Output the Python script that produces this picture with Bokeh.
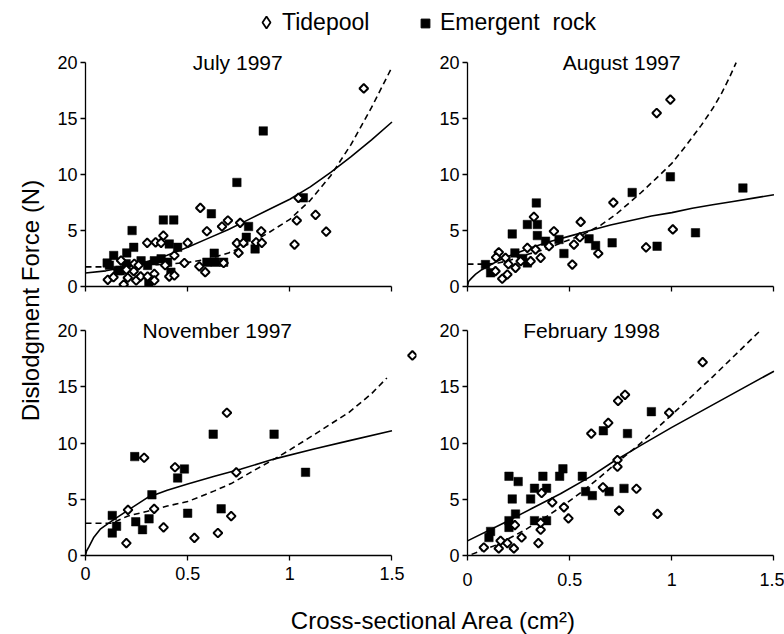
import numpy as np
from bokeh.plotting import figure
from bokeh.models import FixedTicker, Label, Legend, LegendItem, Range1d
from bokeh.layouts import column, row
from bokeh.embed import file_html
from bokeh.resources import INLINE

FONT = "Liberation Sans"

X_TICKS = [0, 0.5, 1, 1.5]
X_TICK_LABELS = ["0", "0.5", "1", "1.5"]
Y_TICKS = [0, 5, 10, 15, 20]
Y_TICK_LABELS = ["0", "5", "10", "15", "20"]

TITLES = ["July 1997", "August 1997", "November 1997", "February 1998"]
SERIES = ["Tidepool", "Emergent  rock"]

# ---------------- July 1997 ----------------
JUL_TIDE_X = [0.109, 0.137, 0.174, 0.187, 0.207, 0.236, 0.239, 0.248, 0.27, 0.304, 0.337, 0.337,
              0.302, 0.343, 0.37, 0.381, 0.41, 0.435, 0.435, 0.484, 0.5, 0.557, 0.562, 0.586,
              0.594, 0.668, 0.676, 0.697, 0.757, 0.749, 0.741, 0.773, 0.835, 0.86, 0.863,
              1.023, 1.034, 1.042, 1.126, 1.178, 1.362, 0.2, 0.26, 0.39]
JUL_TIDE_Y = [0.6, 0.83, 2.32, 0.18, 0.78, 1.37, 2.03, 0.54, 0.9, 0.89, 1.13, 0.54,
              3.9, 3.95, 3.9, 4.55, 0.89, 0.98, 2.77, 2.1, 3.9, 1.8, 7.02, 1.28,
              4.94, 5.36, 2.1, 5.9, 5.69, 3.0, 3.87, 3.9, 3.95, 4.94, 3.9,
              3.75, 5.9, 7.92, 6.4, 4.9, 17.7, 1.5, 1.9, 1.9]
JUL_ROCK_X = [0.106, 0.117, 0.138, 0.158, 0.171, 0.199, 0.202, 0.228, 0.236, 0.272, 0.31,
              0.304, 0.337, 0.37, 0.381, 0.402, 0.41, 0.418, 0.432, 0.451, 0.594, 0.616,
              0.63, 0.635, 0.676, 0.741, 0.787, 0.798, 0.83, 0.87, 1.066]
JUL_ROCK_Y = [2.1, 1.9, 2.77, 1.43, 1.4, 2.03, 3.0, 5.0, 3.5, 2.3, 0.3,
              1.88, 2.3, 2.47, 5.95, 2.17, 3.8, 1.28, 5.95, 3.5, 2.17, 6.5,
              2.98, 2.17, 2.17, 9.3, 4.4, 5.36, 3.36, 13.9, 7.92]
JUL_FIT_ROCK_X = [0, 0.1, 0.2, 0.3, 0.4, 0.5, 0.6, 0.7, 0.8, 0.9, 1.0, 1.1, 1.2, 1.3, 1.4, 1.5]
JUL_FIT_ROCK_Y = [1.2, 1.4, 1.75, 2.2, 2.8, 3.5, 4.3, 5.1, 6.0, 6.9, 7.8, 8.9, 10.2, 11.6, 13.1, 14.7]
JUL_FIT_TIDE_X = [0, 0.1, 0.2, 0.3, 0.4, 0.5, 0.6, 0.7, 0.8, 0.9, 1.0, 1.1, 1.2, 1.3, 1.4, 1.5]
JUL_FIT_TIDE_Y = [1.75, 1.75, 1.8, 1.9, 2.0, 2.15, 2.45, 3.0, 3.8, 4.85, 6.0, 7.7, 9.9, 12.7, 16.0, 19.6]

# ---------------- August 1997 ----------------
AUG_TIDE_X = [0.137, 0.153, 0.17, 0.186, 0.195, 0.235, 0.26, 0.293, 0.309, 0.325, 0.333, 0.358,
              0.399, 0.423, 0.513, 0.521, 0.554, 0.55, 0.64, 0.714, 0.874, 0.926, 0.993, 1.005,
              0.14, 0.2]
AUG_TIDE_Y = [1.37, 3.06, 0.69, 2.56, 1.07, 1.67, 2.26, 3.45, 2.26, 6.22, 3.3, 2.56,
              3.6, 4.94, 1.96, 3.75, 5.77, 4.4, 2.95, 7.5, 3.5, 15.5, 16.7, 5.1,
              2.6, 2.0]
AUG_ROCK_X = [0.088, 0.113, 0.219, 0.232, 0.293, 0.293, 0.337, 0.342, 0.342, 0.382, 0.448,
              0.472, 0.595, 0.627, 0.708, 0.806, 0.928, 0.993, 1.116, 1.348, 0.27]
AUG_ROCK_Y = [1.96, 1.22, 4.7, 3.0, 2.11, 5.54, 7.47, 5.54, 4.55, 4.05, 4.2,
              2.95, 4.26, 3.66, 3.9, 8.4, 3.6, 9.8, 4.8, 8.8, 2.5]
AUG_FIT_ROCK_X = [0, 0.005, 0.02, 0.04, 0.07, 0.1, 0.15, 0.2, 0.3, 0.4, 0.5, 0.6, 0.7, 0.8,
                  0.9, 1.0, 1.1, 1.2, 1.3, 1.4, 1.5]
AUG_FIT_ROCK_Y = [0, 0.45, 0.75, 1.1, 1.5, 1.8, 2.3, 2.7, 3.4, 4.0, 4.5, 5.0, 5.5, 5.9,
                  6.3, 6.6, 7.0, 7.3, 7.6, 7.9, 8.2]
AUG_FIT_TIDE_X = [0, 0.1, 0.15, 0.2, 0.25, 0.3, 0.376, 0.458, 0.56, 0.654, 0.73, 0.8, 0.85,
                  0.92, 1.0, 1.07, 1.144, 1.2, 1.242, 1.28, 1.315]
AUG_FIT_TIDE_Y = [2.0, 2.0, 2.1, 2.3, 2.6, 2.9, 3.3, 3.9, 4.6, 5.5, 6.5, 7.6, 8.4,
                  9.6, 11.0, 12.6, 14.4, 15.9, 17.2, 18.6, 20.0]

# ---------------- November 1997 ----------------
NOV_TIDE_X = [0.2, 0.208, 0.287, 0.336, 0.382, 0.438, 0.533, 0.648, 0.692, 0.713, 0.738, 1.6]
NOV_TIDE_Y = [1.1, 4.06, 8.7, 4.15, 2.5, 7.85, 1.57, 2.0, 12.7, 3.5, 7.4, 17.8]
NOV_ROCK_X = [0.131, 0.152, 0.131, 0.241, 0.246, 0.279, 0.311, 0.325, 0.451, 0.484, 0.5,
              0.625, 0.664, 0.923, 1.077]
NOV_ROCK_Y = [3.56, 2.6, 2.0, 8.8, 3.0, 2.3, 3.26, 5.4, 6.9, 7.7, 3.76,
              10.8, 4.15, 10.8, 7.4]
NOV_FIT_ROCK_X = [0, 0.005, 0.016, 0.041, 0.074, 0.131, 0.205, 0.303, 0.4, 0.5, 0.631, 0.762,
                  0.926, 1.123, 1.287, 1.5]
NOV_FIT_ROCK_Y = [0, 0.4, 0.74, 1.63, 2.37, 3.1, 4.0, 5.15, 5.8, 6.37, 7.05, 7.7,
                  8.6, 9.5, 10.2, 11.1]
NOV_FIT_TIDE_X = [0, 0.13, 0.205, 0.303, 0.4, 0.5, 0.631, 0.713, 0.828, 0.926, 1.0, 1.123,
                  1.2, 1.287, 1.4, 1.475]
NOV_FIT_TIDE_Y = [2.87, 2.87, 3.5, 3.94, 4.4, 4.8, 5.75, 6.4, 7.6, 8.6, 9.4, 10.8,
                  11.7, 12.7, 14.4, 15.8]

# ---------------- February 1998 ----------------
FEB_TIDE_X = [0.08, 0.153, 0.162, 0.195, 0.227, 0.232, 0.265, 0.347, 0.358, 0.358, 0.363,
              0.415, 0.472, 0.494, 0.606, 0.663, 0.689, 0.734, 0.734, 0.737, 0.742, 0.771,
              0.827, 0.93, 0.987, 1.151]
FEB_TIDE_Y = [0.71, 0.63, 1.31, 1.1, 0.63, 2.7, 1.6, 1.1, 2.29, 2.9, 5.56,
              4.73, 4.29, 3.3, 10.85, 6.07, 11.8, 8.5, 7.9, 13.76, 4.0, 14.3,
              5.94, 3.7, 12.7, 17.2]
FEB_ROCK_X = [0.105, 0.113, 0.203, 0.203, 0.203, 0.219, 0.235, 0.248, 0.309, 0.328, 0.328,
              0.369, 0.387, 0.387, 0.451, 0.467, 0.562, 0.578, 0.611, 0.665, 0.693, 0.766,
              0.783, 0.9]
FEB_ROCK_Y = [1.6, 2.14, 2.5, 3.1, 7.05, 5.03, 3.69, 6.58, 5.03, 5.98, 3.1,
              7.05, 5.98, 3.1, 7.05, 7.71, 7.05, 5.69, 5.33, 11.1, 5.69, 5.97,
              10.85, 12.8]
FEB_FIT_ROCK_X = [0, 0.2, 0.317, 0.455, 0.6, 0.709, 0.848, 1.0, 1.1, 1.3, 1.5]
FEB_FIT_ROCK_Y = [1.3, 3.1, 4.2, 5.5, 7.0, 8.3, 9.8, 11.4, 12.4, 14.4, 16.4]
FEB_FIT_TIDE_X = [0.02, 0.15, 0.284, 0.39, 0.48, 0.562, 0.644, 0.734, 0.848, 1.028, 1.2, 1.438]
FEB_FIT_TIDE_Y = [0.1, 1.0, 2.3, 3.5, 4.6, 5.7, 6.9, 8.3, 10.0, 13.0, 15.9, 20.1]


def style_axes(p, show_x_labels, x_standoff):
    for ax in (p.xaxis[0], p.yaxis[0]):
        ax.axis_line_color = "black"
        ax.axis_line_width = 1.3
        ax.major_tick_line_color = "black"
        ax.major_tick_line_width = 1.3
        ax.major_tick_out = 5
        ax.major_tick_in = 0
        ax.minor_tick_line_color = None
        ax.major_label_text_font = FONT
        ax.major_label_text_font_size = "18px"
        ax.major_label_text_color = "black"
    p.xaxis.ticker = FixedTicker(ticks=X_TICKS)
    p.xaxis.bounds = (0, 1.5)
    p.xaxis.major_label_overrides = dict(zip(X_TICKS, X_TICK_LABELS))
    p.xaxis.major_label_standoff = x_standoff
    if not show_x_labels:
        # the upper panels show ticks without numbers
        p.xaxis.major_label_text_color = None
        p.xaxis.major_label_text_font_size = "10px"
        p.xaxis.major_label_standoff = 0
    p.yaxis.ticker = FixedTicker(ticks=Y_TICKS)
    p.yaxis.bounds = (0, 20)
    p.yaxis.major_label_overrides = dict(zip(Y_TICKS, Y_TICK_LABELS))
    p.yaxis.major_label_standoff = 3


def panel(title, title_x, tx, ty, rx, ry, fsx, fsy, fdx, fdy,
          width, height, x_end, b_top, b_bottom, b_right, show_x_labels, x_standoff):
    p = figure(width=width, height=height,
               x_range=Range1d(0, x_end), y_range=Range1d(0, 21),
               output_backend="svg", toolbar_location=None,
               min_border_left=40, min_border_right=b_right,
               min_border_top=b_top, min_border_bottom=b_bottom)
    p.grid.visible = False
    p.outline_line_color = None
    p.background_fill_color = "white"
    p.line(fsx, fsy, line_color="black", line_width=1.6)
    p.line(fdx, fdy, line_color="black", line_width=1.6, line_dash="6 4")
    p.scatter(rx, ry, marker="square", size=8.5, fill_color="black", line_color="black",
              line_width=0.5)
    p.scatter(tx, ty, marker="square", angle=np.pi / 4, size=6.2, fill_color="white",
              line_color="black", line_width=2)
    style_axes(p, show_x_labels, x_standoff)
    p.add_layout(Label(x=title_x, y=20, text=title, text_align="center",
                       text_baseline="middle", text_font=FONT, text_font_size="21px",
                       text_color="black"))
    return p


LEFT_W, RIGHT_W = 382, 357
TOP_H, BOT_H = 269, 288
LEG_H, XL_H, YL_W = 40, 37, 45

p_jul = panel(TITLES[0], 0.745, JUL_TIDE_X, JUL_TIDE_Y, JUL_ROCK_X, JUL_ROCK_Y,
              JUL_FIT_ROCK_X, JUL_FIT_ROCK_Y, JUL_FIT_TIDE_X, JUL_FIT_TIDE_Y,
              LEFT_W, TOP_H, 1.62, 11, 23, 11, False, 6)
p_aug = panel(TITLES[1], 0.755, AUG_TIDE_X, AUG_TIDE_Y, AUG_ROCK_X, AUG_ROCK_Y,
              AUG_FIT_ROCK_X, AUG_FIT_ROCK_Y, AUG_FIT_TIDE_X, AUG_FIT_TIDE_Y,
              RIGHT_W, TOP_H, 1.5516, 11, 23, 0, False, 6)
p_nov = panel(TITLES[2], 0.645, NOV_TIDE_X, NOV_TIDE_Y, NOV_ROCK_X, NOV_ROCK_Y,
              NOV_FIT_ROCK_X, NOV_FIT_ROCK_Y, NOV_FIT_TIDE_X, NOV_FIT_TIDE_Y,
              LEFT_W, BOT_H, 1.62, 10, 42, 11, True, 6)
p_feb = panel(TITLES[3], 0.607, FEB_TIDE_X, FEB_TIDE_Y, FEB_ROCK_X, FEB_ROCK_Y,
              FEB_FIT_ROCK_X, FEB_FIT_ROCK_Y, FEB_FIT_TIDE_X, FEB_FIT_TIDE_Y,
              RIGHT_W, BOT_H, 1.5516, 10, 42, 0, True, 12)

TOTAL_W = YL_W + LEFT_W + RIGHT_W

# legend strip (the legend keys come from renderers whose only point lies off-canvas)
lf = figure(width=TOTAL_W, height=LEG_H, x_range=Range1d(0, TOTAL_W), y_range=Range1d(0, LEG_H),
            output_backend="svg", toolbar_location=None, min_border=0,
            x_axis_location=None, y_axis_location=None)
lf.grid.visible = False
lf.outline_line_color = None
r_tide = lf.scatter([-100], [-100], marker="diamond", size=12,
                    fill_color="white", line_color="black", line_width=1.8)
r_rock = lf.scatter([-100], [-100], marker="square", size=8.5, fill_color="black",
                    line_color="black")
legend_kw = dict(orientation="horizontal", padding=0, margin=0,
                 border_line_color=None, background_fill_alpha=0,
                 label_text_font=FONT, label_text_font_size="23px",
                 label_text_color="black")
legend_tide = Legend(items=[LegendItem(label=SERIES[0], renderers=[r_tide], index=0)],
                     location=(251, 3), glyph_width=30, glyph_height=30, label_standoff=1,
                     **legend_kw)
legend_rock = Legend(items=[LegendItem(label=SERIES[1], renderers=[r_rock], index=0)],
                     location=(414, 4), glyph_width=22, glyph_height=22, label_standoff=4,
                     **legend_kw)
lf.add_layout(legend_tide, "center")
lf.add_layout(legend_rock, "center")

# y label strip
YL_H = TOP_H + BOT_H
yf = figure(width=YL_W, height=YL_H, x_range=Range1d(0, YL_W), y_range=Range1d(0, YL_H),
            output_backend="svg", toolbar_location=None, min_border=0,
            x_axis_location=None, y_axis_location=None)
yf.grid.visible = False
yf.outline_line_color = None
yf.add_layout(Label(x=30, y=YL_H - 260, text="Dislodgment Force (N)", angle=np.pi / 2,
                    text_align="center", text_baseline="middle", text_font=FONT,
                    text_font_size="24px", text_color="black"))

# x label strip
xf = figure(width=TOTAL_W, height=XL_H, x_range=Range1d(0, TOTAL_W), y_range=Range1d(0, XL_H),
            output_backend="svg", toolbar_location=None, min_border=0,
            x_axis_location=None, y_axis_location=None)
xf.grid.visible = False
xf.outline_line_color = None
xf.add_layout(Label(x=433, y=14, text="Cross-sectional Area (cm²)", text_align="center",
                    text_baseline="middle", text_font=FONT, text_font_size="24px",
                    text_color="black"))

layout = column(lf, row(yf, column(row(p_jul, p_aug), row(p_nov, p_feb))), xf)

open("out.html", "w").write(file_html(layout, INLINE))
